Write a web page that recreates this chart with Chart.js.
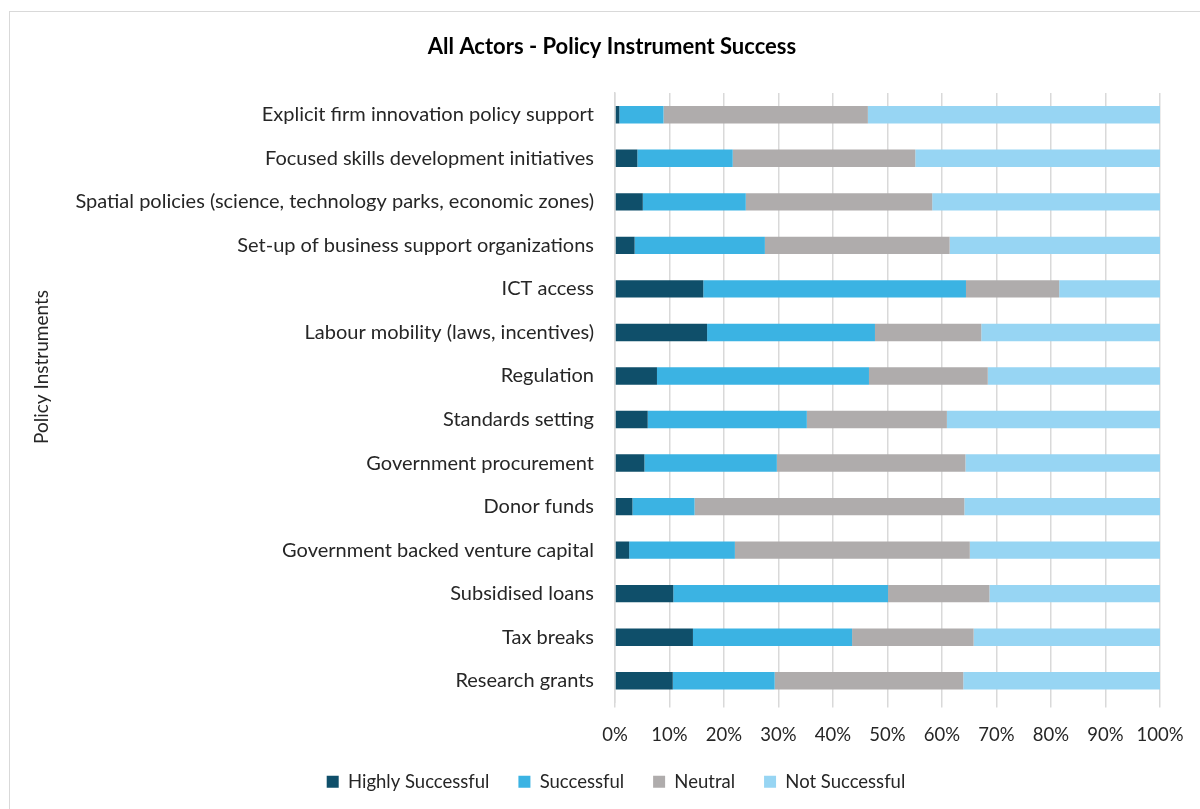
<!DOCTYPE html>
<html>
<head>
<meta charset="utf-8">
<script src="https://cdn.jsdelivr.net/npm/chart.js@4.4.1/dist/chart.umd.min.js"></script>
<style>
  html, body { margin: 0; padding: 0; background: #ffffff; }
  #frame { position: absolute; left: 9px; top: 11px; width: 1200px; height: 820px; border: 1px solid #d9d9d9; box-sizing: border-box; }
  #wrap { position: absolute; left: 0; top: 0; width: 1200px; height: 809px; }
</style>
</head>
<body>
<div id="frame"></div>
<div id="wrap"><canvas id="c" width="1200" height="809"></canvas></div>
<script>
const categories = [
  "Explicit firm innovation policy support",
  "Focused skills development initiatives",
  "Spatial policies (science, technology parks, economic zones)",
  "Set-up of business support organizations",
  "ICT access",
  "Labour mobility (laws, incentives)",
  "Regulation",
  "Standards setting",
  "Government procurement",
  "Donor funds",
  "Government backed venture capital",
  "Subsidised loans",
  "Tax breaks",
  "Research grants"
];
const highlySuccessful = [0.8, 4.1, 5.1, 3.6, 16.2, 16.9, 7.7, 6.0, 5.4, 3.2, 2.6, 10.7, 14.3, 10.6];
const successful       = [8.1, 17.5, 18.9, 23.9, 48.2, 30.8, 38.9, 29.2, 24.3, 11.4, 19.4, 39.4, 29.2, 18.7];
const neutral          = [37.5, 33.5, 34.2, 33.9, 17.1, 19.5, 21.8, 25.7, 34.6, 49.5, 43.1, 18.6, 22.3, 34.6];
const notSuccessful    = [53.6, 44.9, 41.8, 38.6, 18.5, 32.8, 31.6, 39.1, 35.7, 35.9, 34.9, 31.3, 34.2, 36.1];
const seriesNames = ["Highly Successful", "Successful", "Neutral", "Not Successful"];
const tickValues = [0, 10, 20, 30, 40, 50, 60, 70, 80, 90, 100];
const chartTitle = "All Actors - Policy Instrument Success";
const yAxisTitle = "Policy Instruments";

const FONT = "Lato, 'Open Sans', sans-serif";
const colors = ["#0f4f6a", "#3bb3e3", "#afacac", "#97d5f3"];
const seriesData = [highlySuccessful, successful, neutral, notSuccessful];

const textPlugin = {
  id: "texts",
  afterDraw(chart) {
    const ctx = chart.ctx;
    ctx.save();
    ctx.fillStyle = "#000000";
    ctx.font = "bold 22px " + FONT;
    ctx.textAlign = "center";
    ctx.textBaseline = "middle";
    ctx.fillText(chartTitle, 612, 47);
    ctx.fillStyle = "#262626";
    ctx.font = "19px " + FONT;
    ctx.translate(42, 367);
    ctx.rotate(-Math.PI / 2);
    ctx.fillText(yAxisTitle, 0, 0);
    ctx.restore();
  }
};

new Chart(document.getElementById("c"), {
  type: "bar",
  data: {
    labels: categories,
    datasets: seriesNames.map((n, i) => ({
      label: n,
      data: seriesData[i],
      backgroundColor: colors[i],
      borderWidth: 0,
      barPercentage: 0.4,
      categoryPercentage: 1.0
    }))
  },
  plugins: [textPlugin],
  options: {
    indexAxis: "y",
    responsive: false,
    animation: false,
    layout: { padding: { left: 72, right: 40, top: 93, bottom: 8 } },
    plugins: {
      title: { display: false },
      legend: {
        position: "bottom",
        labels: {
          color: "#262626",
          font: { family: FONT, size: 18.5 },
          boxWidth: 12,
          boxHeight: 12,
          padding: 29
        }
      },
      tooltip: { enabled: false }
    },
    scales: {
      x: {
        stacked: true,
        min: 0,
        max: 100,
        afterBuildTicks: (s) => { s.ticks = tickValues.map(v => ({ value: v })); },
        grid: { color: "#d9d9d9", lineWidth: 1.5, tickLength: 5, drawTicks: true },
        border: { display: false },
        ticks: {
          color: "#262626",
          font: { family: FONT, size: 18.5 },
          padding: 16,
          callback: (v) => v + "%"
        },
        afterFit: (s) => { s.height = 41; }
      },
      y: {
        stacked: true,
        grid: { display: false, drawTicks: false },
        border: { color: "#d9d9d9", width: 1.5 },
        ticks: {
          color: "#262626",
          font: { family: FONT, size: 20 },
          padding: 21
        },
        afterFit: (s) => { s.width = 615 - 72; }
      }
    }
  }
});
</script>
</body>
</html>
